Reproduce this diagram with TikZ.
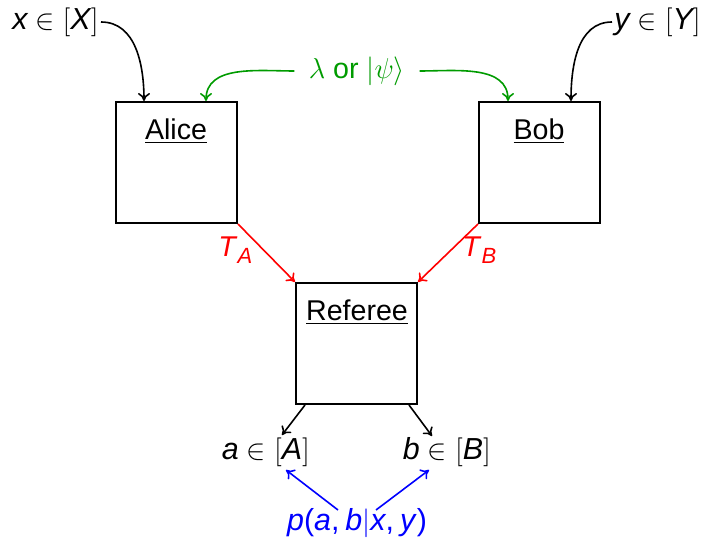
\documentclass[tikz,border=0pt]{standalone}
\usepackage{fontspec}
\setmainfont{Liberation Sans}
\usetikzlibrary{arrows.meta}
\definecolor{qgreen}{RGB}{0,155,0}
\newcommand{\vi}[1]{\textit{#1}}
\begin{document}
\begin{tikzpicture}[x=0.5pt,y=-0.5pt,
  font=\fontsize{14.3}{17}\selectfont,
  party/.style={draw,line width=1pt,minimum width=60.5pt,minimum height=60.5pt,inner sep=0pt},
  plabel/.style={inner sep=0pt,anchor=center},
  conn/.style={line width=0.8pt,-{To[length=4pt,width=6pt]}},
  lbl/.style={inner sep=1pt,font=\fontsize{15.2}{18}\selectfont}]
\useasboundingbox (0,0) rectangle (707,539);
% boxes
\node[party] (alice) at (176.5,162.5) {};
\node[party] (bob) at (539.5,162.5) {};
\node[party] (ref) at (356.5,343.5) {};
\node[plabel] (alicet) at (176,131) {\underline{Alice}};
\node[plabel] (bobt) at (539,131) {\underline{Bob}};
\node[plabel] (reft) at (357,312) {\underline{Referee}};
% inputs
\node[lbl,anchor=east] (xin) at (101,22) {$\mathit{x}\in[\mathit{X}]$};
\node[lbl,anchor=west] (yin) at (612,22) {$\mathit{y}\in[\mathit{Y}]$};
\coordinate (ax) at ([xshift=14.5pt]alice.north west);
\coordinate (by) at ([xshift=-15pt]bob.north east);
\draw[conn] (xin.east) to[out=0,in=90] (ax);
\draw[conn] (yin.west) to[out=180,in=90] (by);
% shared resource
\node[lbl,text=qgreen,font=\fontsize{14.3}{17}\selectfont] (res) at (357,71) {$\lambda$ or $|\psi\rangle$};
\coordinate (ag) at ([xshift=-16pt]alice.north east);
\coordinate (bg) at ([xshift=15pt]bob.north west);
\draw[conn,qgreen] ([xshift=-6pt]res.west) to[out=180,in=90] (ag);
\draw[conn,qgreen] ([xshift=6pt]res.east) to[out=0,in=90] (bg);
% transcripts
\draw[conn,red] (alice.south east) -- (ref.north west)
  node[pos=0.45,left=2pt,text=red] (ta) {\vi{T}\raisebox{-0.45ex}{\fontsize{11}{12}\selectfont\vi{A}}};
\draw[conn,red] (bob.south west) -- (ref.north east)
  node[pos=0.45,right=2pt,text=red] (tb) {\vi{T}\raisebox{-0.45ex}{\fontsize{11}{12}\selectfont\vi{B}}};
% outputs
\node[lbl] (aout) at (266,452) {$\mathit{a}\in[\mathit{A}]$};
\node[lbl] (bout) at (447,452) {$\mathit{b}\in[\mathit{B}]$};
\coordinate (ra) at ([xshift=5pt]ref.south west);
\coordinate (rb) at ([xshift=-4.5pt]ref.south east);
\coordinate (ea) at (282,435);
\coordinate (eb) at (432,436);
\draw[conn] (ra) -- (ea);
\draw[conn] (rb) -- (eb);
% distribution
\node[lbl,text=blue] (dist) at (357,523) {\vi{p}(\vi{a},\hspace{3pt}\vi{b}$|$\vi{x},\hspace{3pt}\vi{y})};
\coordinate (da) at (338,510);
\coordinate (db) at (376,510);
\coordinate (pa) at (286,470);
\coordinate (pb) at (429,470);
\draw[conn,blue] (da) -- (pa);
\draw[conn,blue] (db) -- (pb);
\end{tikzpicture}
\end{document}
